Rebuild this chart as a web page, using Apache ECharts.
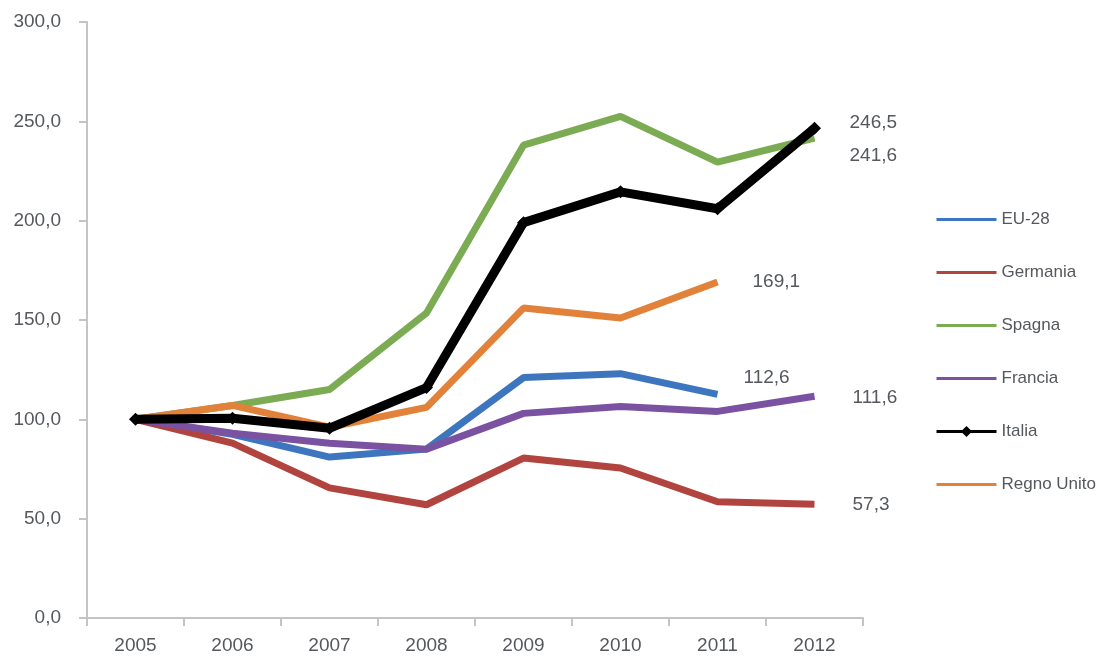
<!DOCTYPE html>
<html>
<head>
<meta charset="utf-8">
<script src="https://cdn.jsdelivr.net/npm/echarts@6/dist/echarts.min.js"></script>
<style>
	html, body { margin: 0; padding: 0; background: #fff; }
	#chart { width: 1102px; height: 666px; }
</style>
</head>
<body>
<div id="chart"></div>
<script>
/*categorie (anni)*/
var years = ['2005', '2006', '2007', '2008', '2009', '2010', '2011', '2012'];
/*valori delle serie, indice 2005 = 100*/
var eu28 = [100, 92.5, 81, 85, 121, 123, 112.6];
var germania = [100, 88, 65.5, 57, 80.5, 75.5, 58.5, 57.3];
var spagna = [100, 107, 115, 153.5, 238, 252.5, 229.5, 241.6];
var francia = [100, 93, 88, 85, 103, 106.5, 104, 111.6];
var italia = [100, 100.5, 95.5, 116, 199, 214.5, 206, 246.5];
var regnoUnito = [100, 107, 96, 106, 156, 151, 169.1];
/*etichette asse y*/
var yTicks = [0, 50, 100, 150, 200, 250, 300];

var font = "'Liberation Sans', 'Roboto', sans-serif";
var textGrey = '#55585c';

function fmt(v) {
	return v.toFixed(1).replace('.', ',');
}

function line(name, data, color, width, labelOffset) {
	return {
		name: name,
		type: 'line',
		data: data,
		showSymbol: false,
		lineStyle: { width: width, color: color },
		itemStyle: { color: color },
		z: 2,
		endLabel: {
			show: true,
			offset: labelOffset,
			formatter: function(p) { return fmt(p.value); },
			color: textGrey,
			fontFamily: font,
			fontSize: 19
		}
	};
}

var myChart = echarts.init(document.getElementById('chart'));

var series = [
	line('EU-28', eu28, '#3d76be', 7, [18, -17]),
	line('Germania', germania, '#b1443f', 7, [30, 1]),
	line('Spagna', spagna, '#7bab52', 7, [27, 18]),
	line('Francia', francia, '#7a52a1', 7, [30, 1]),
	line('Italia', italia, '#000000', 9, [27, -6]),
	line('Regno Unito', regnoUnito, '#e2823a', 7, [27, 0])
];
// Italia ha i marcatori a rombo
series[4].symbol = 'diamond';
series[4].showSymbol = true;
series[4].symbolSize = 13;
series[4].z = 3;

/*voci della legenda: solo la linea, tranne Italia*/
var legendData = series.map(function(s) {
	if (s.name === 'Italia') {
		return { name: s.name };
	}
	return { name: s.name, icon: 'path://M0,0H60V3H0Z' };
});

var option = {
	animation: false,
	backgroundColor: '#fff',
	grid: {
		left: 87,
		right: 239,
		top: 22,
		bottom: 48,
		containLabel: false
	},
	legend: {
		orient: 'vertical',
		left: 930,
		top: 206,
		itemWidth: 60,
		itemHeight: 14,
		itemGap: 36,
		symbolKeepAspect: true,
		lineStyle: { width: 3 },
		data: legendData,
		textStyle: {
			color: textGrey,
			fontFamily: font,
			fontSize: 17
		}
	},
	xAxis: {
		type: 'category',
		data: years,
		boundaryGap: true,
		axisLine: { lineStyle: { color: '#c4c4c4', width: 2 } },
		axisTick: { show: true, length: 8, lineStyle: { color: '#c4c4c4', width: 2 } },
		axisLabel: {
			color: textGrey,
			fontFamily: font,
			fontSize: 19,
			margin: 18
		}
	},
	yAxis: {
		type: 'value',
		min: yTicks[0],
		max: yTicks[yTicks.length - 1],
		interval: 50,
		axisLine: { show: true, lineStyle: { color: '#c4c4c4', width: 2 } },
		axisTick: { show: true, length: 8, lineStyle: { color: '#c4c4c4', width: 2 } },
		splitLine: { show: false },
		axisLabel: {
			color: textGrey,
			fontFamily: font,
			fontSize: 19,
			margin: 26,
			formatter: function(v) { return fmt(v); }
		}
	},
	series: series
};

myChart.setOption(option);
</script>
</body>
</html>
